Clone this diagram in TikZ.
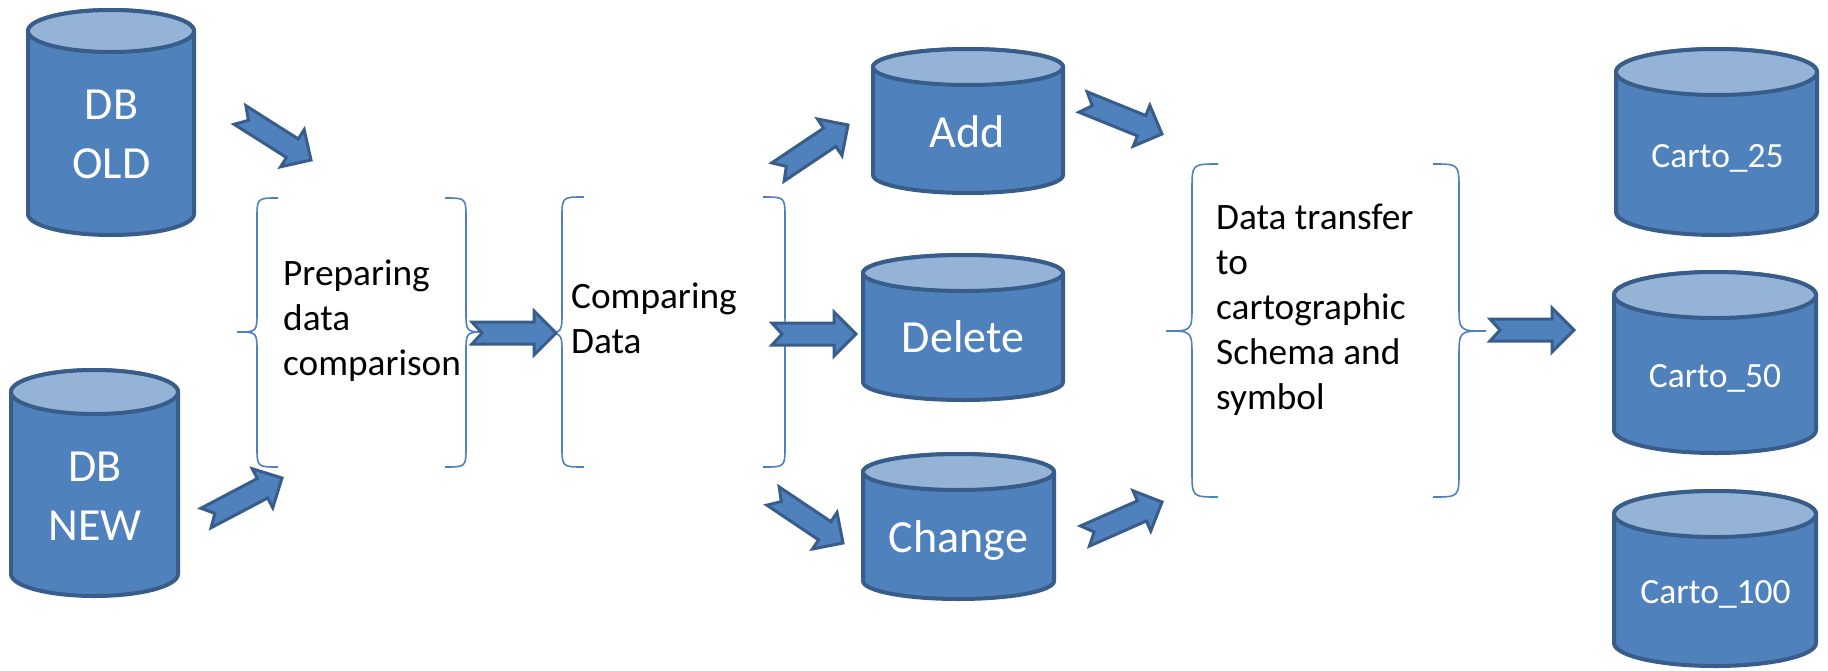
\documentclass[tikz,border=0pt]{standalone}
\usepackage{fontspec}
\setmainfont{Carlito}
\usetikzlibrary{calc}

\definecolor{dbfill}{HTML}{4F81BD}
\definecolor{dbtopfill}{HTML}{95B3D7}
\definecolor{dbline}{HTML}{385D8A}

\newcommand{\blockarrow}[2]{%
	\coordinate (hb) at ($(#2)!22pt!(#1)$);
	\draw[blockarr] ($(#1)!11pt!90:(#2)$) -- ($(hb)!11pt!90:(#2)$) -- ($(hb)!22pt!90:(#2)$) -- (#2)
		-- ($(hb)!22pt!-90:(#2)$) -- ($(hb)!11pt!-90:(#2)$) -- ($(#1)!11pt!-90:(#2)$) -- ($(#1)!10pt!(#2)$) -- cycle;}

\begin{document}
\begin{tikzpicture}[x=1pt,y=1pt]
	\tikzstyle{every node}=[inner sep=0pt]
	\tikzstyle{dbside}=[draw=dbline, fill=dbfill, line width=4pt, line join=round]
	\tikzstyle{dbtop}=[draw=dbline, fill=dbtopfill, line width=4pt]
	\tikzstyle{dblabel}=[white, font=\fontsize{46pt}{59pt}\selectfont, align=center]
	\tikzstyle{cartolabel}=[white, font=\fontsize{35.5pt}{44pt}\selectfont]
	\tikzstyle{steptext}=[black, font=\fontsize{37.3pt}{45pt}\selectfont, align=left, anchor=north west]
	\tikzstyle{curly}=[draw=dbfill, line width=1.6pt]
	\tikzstyle{blockarr}=[draw=dbline, fill=dbfill, line width=3pt, line join=miter]

	\fill[white] (0,0) rectangle (1828,-670);
	\useasboundingbox (0,0) rectangle (1828,-670);

	%% databases
	\draw[dbside] (28,-31) -- (28,-214) arc (180:360:83pt and 21pt) -- (194,-31) arc (0:180:83pt and 21pt) -- cycle;
	\draw[dbtop] (111,-31) ellipse (83pt and 21pt);
	\draw[dbside] (11,-392) -- (11,-574) arc (180:360:83.5pt and 22pt) -- (178,-392) arc (0:180:83.5pt and 22pt) -- cycle;
	\draw[dbtop] (94.5,-392) ellipse (83.5pt and 22pt);
	\draw[dbside] (873,-67) -- (873,-175) arc (180:360:95pt and 18pt) -- (1063,-67) arc (0:180:95pt and 18pt) -- cycle;
	\draw[dbtop] (968,-67) ellipse (95pt and 18pt);
	\draw[dbside] (863,-273) -- (863,-382) arc (180:360:100pt and 18pt) -- (1063,-273) arc (0:180:100pt and 18pt) -- cycle;
	\draw[dbtop] (963,-273) ellipse (100pt and 18pt);
	\draw[dbside] (863,-472) -- (863,-581) arc (180:360:95.5pt and 18pt) -- (1054,-472) arc (0:180:95.5pt and 18pt) -- cycle;
	\draw[dbtop] (958.5,-472) ellipse (95.5pt and 18pt);
	\draw[dbside] (1616,-72) -- (1616,-212) arc (180:360:100.5pt and 23pt) -- (1817,-72) arc (0:180:100.5pt and 23pt) -- cycle;
	\draw[dbtop] (1716.5,-72) ellipse (100.5pt and 23pt);
	\draw[dbside] (1614,-295) -- (1614,-430) arc (180:360:101pt and 23pt) -- (1816,-295) arc (0:180:101pt and 23pt) -- cycle;
	\draw[dbtop] (1715,-295) ellipse (101pt and 23pt);
	\draw[dbside] (1614,-514) -- (1614,-643) arc (180:360:101pt and 23pt) -- (1816,-514) arc (0:180:101pt and 23pt) -- cycle;
	\draw[dbtop] (1715,-514) ellipse (101pt and 23pt);

	\node[dblabel, anchor=north] (dbold) at (111.5,-90) {DB\\OLD};
	\node[dblabel, anchor=north] (dbnew) at (95,-452) {DB\\NEW};
	\node[dblabel, anchor=base] (add) at (967,-147) {Add};
	\node[dblabel, anchor=base] (delete) at (963,-352) {Delete};
	\node[dblabel, anchor=base] (change) at (958.5,-552) {Change};
	\node[cartolabel, anchor=base] (carto25) at (1717.5,-167) {Carto\_25};
	\node[cartolabel, anchor=base] (carto50) at (1715,-387) {Carto\_50};
	\node[cartolabel, anchor=base] (carto100) at (1715.5,-603) {Carto\_100};

	%% braces and steps
	\draw[curly] (278,-198) .. controls (257,-198) .. (257,-219) -- (257,-311) .. controls (257,-332) .. (237,-332) .. controls (257,-332) .. (257,-353) -- (257,-446) .. controls (257,-467) .. (278,-467);
	\draw[curly] (445,-198) .. controls (466,-198) .. (466,-219) -- (466,-311) .. controls (466,-332) .. (486,-332) .. controls (466,-332) .. (466,-353) -- (466,-446) .. controls (466,-467) .. (445,-467);
	\draw[curly] (584,-197) .. controls (562,-197) .. (562,-218) -- (562,-312) .. controls (562,-333) .. (542,-333) .. controls (562,-333) .. (562,-354) -- (562,-446) .. controls (562,-467) .. (584,-467);
	\draw[curly] (763,-197) .. controls (785,-197) .. (785,-218) -- (785,-312) .. controls (785,-333) .. (806,-333) .. controls (785,-333) .. (785,-354) -- (785,-446) .. controls (785,-467) .. (763,-467);
	\draw[curly] (1218,-164) .. controls (1192,-164) .. (1192,-190) -- (1192,-305) .. controls (1192,-331) .. (1166,-331) .. controls (1192,-331) .. (1192,-357) -- (1192,-471) .. controls (1192,-497) .. (1218,-497);
	\draw[curly] (1433,-164) .. controls (1459,-164) .. (1459,-190) -- (1459,-305) .. controls (1459,-331) .. (1486,-331) .. controls (1459,-331) .. (1459,-357) -- (1459,-471) .. controls (1459,-497) .. (1433,-497);

	\node[steptext] (prep) at (283,-260) {Preparing\\data\\comparison};
	\node[steptext] (cmp) at (571,-283) {Comparing\\Data};
	\node[steptext] (xfer) at (1216,-204) {Data transfer\\to\\cartographic\\Schema and\\symbol};

	%% block arrows
	\coordinate (oldtail) at (240,-115);
	\coordinate (oldtip) at (311,-160);
	\coordinate (newtail) at (206,-518);
	\coordinate (newtip) at (282,-478);
	\coordinate (preptail) at (472,-333);
	\coordinate (preptip) at (556,-333);
	\coordinate (addtail) at (778,-172);
	\coordinate (addtip) at (848,-125);
	\coordinate (deltail) at (772,-334);
	\coordinate (deltip) at (856,-334);
	\coordinate (chgtail) at (773,-496);
	\coordinate (chgtip) at (843,-543);
	\coordinate (addouttail) at (1083,-102);
	\coordinate (addouttip) at (1162,-134);
	\coordinate (chgouttail) at (1085,-536);
	\coordinate (chgouttip) at (1162,-502);
	\coordinate (xfertail) at (1490,-330);
	\coordinate (xfertip) at (1574,-330);

	\blockarrow{oldtail}{oldtip}
	\blockarrow{newtail}{newtip}
	\blockarrow{preptail}{preptip}
	\blockarrow{addtail}{addtip}
	\blockarrow{deltail}{deltip}
	\blockarrow{chgtail}{chgtip}
	\blockarrow{addouttail}{addouttip}
	\blockarrow{chgouttail}{chgouttip}
	\blockarrow{xfertail}{xfertip}

\end{tikzpicture}
\end{document}
